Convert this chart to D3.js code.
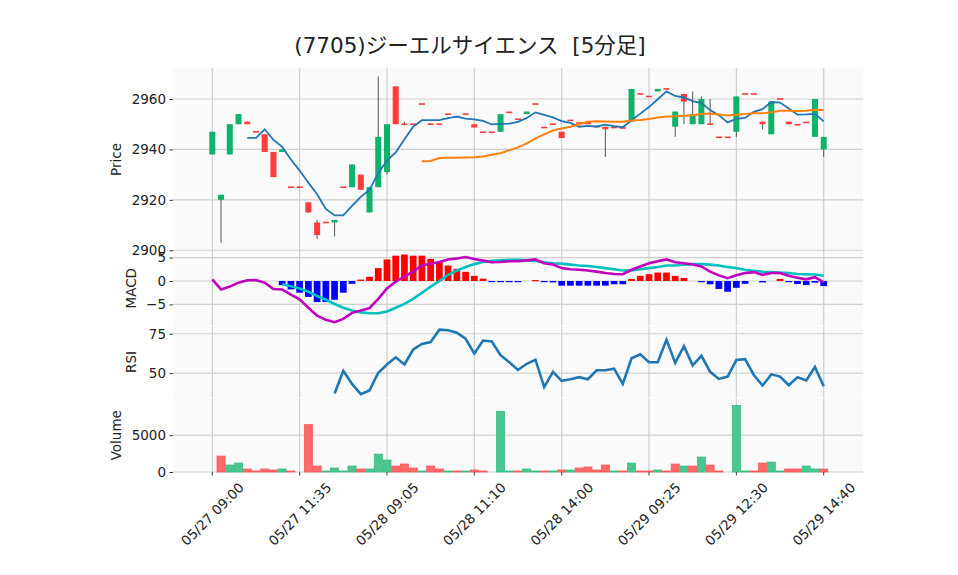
<!DOCTYPE html>
<html>
<head>
<meta charset="utf-8">
<script src="https://cdn.jsdelivr.net/npm/d3@7/dist/d3.min.js"></script>
<style>
  body { margin: 0; background: #fff; }
  text { font-family: "DejaVu Sans", "Noto Sans CJK JP", sans-serif; fill: #222; }
</style>
</head>
<body>
<div id="chart"></div>
<script>
// 5-minute bars (index 0 = 05/27 09:00)
var opens  = [2938,2920,2938,2950,2951,2947,2946,2939,2939,2925, 2925,2919,2911,2911,2911,2925,2925,2930,2915,2925,
              2931,2965,2950,2950,2958,2950,2950,2954,2953,2954, 2950,2946.8,2946.8,2947,2954.7,2952,2954,2958,2948.7,2950,
              2947,2951.5,2950.5,2951,2949,2949,2948.7,2948.5,2951,2962, 2961,2963,2964,2949,2962,2950,2950,2950,2944.8,2944.8,
              2947,2962,2962,2951,2946,2960,2951,2949.8,2950.7,2945, 2940];
var highs  = [2947,2922,2950,2954,2951,2947,2946,2939,2940,2925, 2925,2919,2912,2911,2912,2925,2934,2930,2925,2969,
              2950,2965,2951,2950,2958,2950,2950,2954,2953,2954, 2950,2946.8,2946.8,2954,2954.7,2952,2955,2958,2948.7,2950,
              2947,2951.5,2950.5,2951,2949,2949,2948.7,2948.5,2964,2962, 2961,2964,2964,2955,2962,2963,2961,2960,2944.8,2944.8,
              2961,2962,2962,2951,2959,2960,2951,2949.8,2950.7,2960, 2945];
var lows   = [2938,2903,2938,2950,2950,2947,2939,2929,2939,2925, 2925,2915,2904.5,2911,2905.5,2925,2925,2924,2915,2925,
              2930,2950,2949.5,2950,2958,2950,2950,2954,2953,2954, 2948.7,2946.8,2946.8,2947,2954.7,2952,2954,2958,2948.7,2950,
              2944.5,2951.5,2950.5,2950,2949,2937,2948.7,2948.5,2951,2962, 2961,2963,2964,2945,2950,2950,2950,2950,2944.8,2944.8,
              2945,2962,2962,2948,2946,2960,2950,2949.8,2950.7,2945, 2937];
var closes = [2947,2922,2950,2954,2950,2947,2939,2929,2940,2925, 2925,2915,2906,2911,2912,2925,2934,2924,2925,2945,
              2950,2950,2950,2950,2958,2950,2950,2954,2953,2954, 2948.7,2946.8,2946.8,2954,2954.7,2952,2955,2958,2948.7,2950,
              2944.5,2951.5,2950.5,2950,2949,2948,2948.7,2948.5,2964,2962, 2961,2964,2964,2955,2959,2954,2960,2950,2944.8,2944.8,
              2961,2962,2962,2950,2959,2960,2950,2949.8,2950.7,2960, 2945];
var volumes = [0,2160,945,1215,405,135,405,270,405,135, 0,6435,810,135,540,135,810,405,405,2430,
               1620,810,1080,540,135,810,405,135,135,135, 270,135,0,8235,135,135,405,135,135,135,
               270,270,540,675,270,945,135,135,1215,135, 135,270,135,1080,810,810,2025,945,135,0,
               9045,135,135,1215,1350,135,405,405,810,405, 405];

// moving averages (5 and 25 bars)
var ma5 = [null,null,null,null,2944.6,2944.6,2948.0,2943.8,2941.0,2936.0, 2931.6,2926.8,2922.2,2916.4,2913.8,2913.8,2917.6,2921.2,2924.0,2930.6,
           2935.6,2938.8,2944.0,2949.0,2951.6,2951.6,2951.6,2952.4,2953.0,2952.2, 2951.9,2951.3,2949.9,2950.1,2950.2,2950.9,2952.5,2954.7,2953.7,2952.7,
           2951.2,2950.5,2949.0,2949.3,2949.1,2949.8,2949.2,2948.8,2951.6,2954.2, 2956.8,2959.9,2963.0,2961.2,2960.6,2959.2,2958.4,2955.6,2953.6,2950.7,
           2952.1,2952.5,2954.9,2956.0,2958.8,2958.6,2956.2,2953.8,2953.9,2954.1, 2951.1];
var ma25 = [null,null,null,null,null,null,null,null,null,null, null,null,null,null,null,null,null,null,null,null,
            null,null,null,null,2935.3,2935.4,2936.6,2936.7,2936.7,2936.8, 2936.9,2937.2,2937.9,2938.5,2939.7,2940.8,2942.4,2944.4,2946.0,2947.5,
            2948.3,2949.0,2950.0,2951.0,2951.2,2951.1,2951.0,2951.0,2951.5,2951.7, 2952.1,2952.7,2953.1,2953.2,2953.4,2953.6,2954.1,2954.2,2953.9,2953.5,
            2953.8,2954.1,2954.3,2954.3,2954.7,2955.3,2955.3,2955.2,2955.3,2955.7, 2955.6];

// MACD panel
var macd = [0.36,-1.8,-1.2,-0.36,0.14,0.2,-0.36,-1.7,-1.8,-2.9, -3.9,-5.7,-7.4,-8.3,-8.8,-8.1,-6.8,-6.3,-5.8,-3.8,
            -1.6,-0.15,0.94,2.0,3.3,3.7,4.06,4.6,4.8,5.1, 4.7,4.35,4.0,4.06,4.2,4.2,4.4,4.6,3.8,3.5,
            2.75,2.5,2.4,2.25,2.0,1.7,1.5,1.45,2.4,3.1, 3.8,4.2,4.6,4.0,3.8,3.5,3.1,2.0,1.2,0.6,
            1.2,1.7,1.9,1.3,1.7,1.7,1.1,0.7,0.36,0.8, -0.3];
var signal = [null,null,null,null,null,null,null,null,-0.7,-1.1, -1.6,-2.3,-3.2,-4.0,-4.9,-5.7,-6.3,-6.7,-6.9,-6.9,
              -6.5,-5.7,-4.9,-3.8,-2.5,-1.2,0,1.3,2.25,3.0, 3.6,4.06,4.3,4.4,4.5,4.5,4.4,4.3,4.0,3.8,
              3.7,3.5,3.3,3.2,3.0,2.75,2.5,2.25,2.25,2.5, 2.75,3.0,3.3,3.3,3.5,3.6,3.6,3.5,3.3,3.0,
              2.75,2.4,2.2,2.0,1.9,1.8,1.7,1.5,1.45,1.4, 1.1];
var hist = [null,null,null,null,null,null,null,null,-0.9,-1.8, -2.5,-3.4,-4.5,-4.5,-4.0,-2.5,-0.6,0.3,0.9,2.75,
            4.6,5.4,5.65,5.4,5.4,4.7,4.0,3.3,2.6,1.95, 1.1,0.5,-0.15,-0.05,-0.1,-0.15,0,0.2,-0.1,-0.3,
            -1.0,-1.0,-1.0,-1.0,-1.0,-1.0,-0.7,-0.7,0.45,1.1, 1.45,1.8,1.8,1.1,0.65,0,-0.1,-0.7,-1.7,-2.3,
            -1.45,-0.6,0,-0.3,0,0.45,-0.1,-0.65,-0.87,-0.36, -1.09];

// RSI panel
var rsi = [null,null,null,null,null,null,null,null,null,null, null,null,null,null,37.0,51.4,43.1,36.6,39.0,50.2,
           55.5,60.0,55.5,65.0,68.5,69.7,77.6,77.2,75.6,71.8, 62.4,70.7,70.1,61.4,56.9,52.0,55.9,58.5,41.1,50.8,
           45.1,46.1,47.4,46.1,51.8,51.8,52.8,43.1,59.4,62.0, 56.9,56.9,71.1,56.5,67.1,54.9,61.0,50.8,46.3,47.8,
           58.3,58.9,48.8,42.1,49.2,47.8,42.3,47.4,45.3,53.9, 41.7];

// x tick labels
var tickIdx = [0,10,20,30,40,50,60,70];
var tickLabels = ["05/27 09:00","05/27 11:35","05/28 09:05","05/28 11:10","05/28 14:00","05/29 09:25","05/29 12:30","05/29 14:40"];

var width = 958, height = 575;
var up = "#0db36b", down = "#fe3b3b";

var svg = d3.select("#chart").append("svg")
    .attr("width", width)
    .attr("height", height);

var x = d3.scaleLinear().domain([-4.5, 74.5]).range([173, 863]);
var step = x(1) - x(0);

var panels = [
  {label: "Price",  top: 68,    bottom: 251,   domain: [2899.7, 2972.3], ticks: [2900, 2920, 2940, 2960], labelX: 116},
  {label: "MACD",   top: 251,   bottom: 325.5, domain: [-9.5, 6.4],      ticks: [-5, 0, 5],                labelX: 131},
  {label: "RSI",    top: 326.5, bottom: 397.5, domain: [34.5, 79.6],     ticks: [50, 75],                  labelX: 131},
  {label: "Volume", top: 398.5, bottom: 472,   domain: [0, 9990],        ticks: [0, 5000],                 labelX: 116}
];

panels.forEach(function(p) {
  p.y = d3.scaleLinear().domain(p.domain).range([p.bottom, p.top]);
  var g = svg.append("g");
  g.append("rect")
      .attr("x", 173).attr("y", p.top)
      .attr("width", 690).attr("height", p.bottom - p.top)
      .attr("fill", "#fafafa");
  // grid
  g.selectAll(".vg").data(tickIdx).enter().append("line")
      .attr("x1", function(d) { return x(d); }).attr("x2", function(d) { return x(d); })
      .attr("y1", p.top).attr("y2", p.bottom)
      .attr("stroke", "#d0d0d0").attr("stroke-width", 1.2);
  g.selectAll(".hg").data(p.ticks).enter().append("line")
      .attr("x1", 173).attr("x2", 863)
      .attr("y1", function(d) { return p.y(d); }).attr("y2", function(d) { return p.y(d); })
      .attr("stroke", "#d0d0d0").attr("stroke-width", 1.2);
  // y axis
  var axis = d3.axisLeft(p.y).tickValues(p.ticks).tickSize(3.5).tickPadding(3.5)
      .tickFormat(function(d) { return d < 0 ? "\u2212" + Math.abs(d) : d; });
  var ag = svg.append("g").attr("transform", "translate(173,0)").call(axis);
  ag.select(".domain").remove();
  ag.selectAll("line").attr("stroke", "#222").attr("stroke-width", 0.9);
  ag.selectAll("text").attr("font-size", "13.5px").attr("font-family", "DejaVu Sans").attr("fill", "#222");
  svg.append("text")
      .attr("transform", "translate(" + p.labelX + "," + ((p.top + p.bottom) / 2) + ") rotate(-90)")
      .attr("text-anchor", "middle")
      .attr("dominant-baseline", "central")
      .attr("font-size", "13.5px")
      .text(p.label);
});

var yP = panels[0].y, yM = panels[1].y, yR = panels[2].y, yV = panels[3].y;

var bars = closes.map(function(c, i) {
  return {i: i, o: opens[i], h: highs[i], l: lows[i], c: c, v: volumes[i]};
});

// candles
var bw = step * 0.69;
svg.append("g").selectAll("line").data(bars).enter().append("line")
    .attr("x1", function(d) { return x(d.i); }).attr("x2", function(d) { return x(d.i); })
    .attr("y1", function(d) { return yP(d.h); }).attr("y2", function(d) { return yP(d.l); })
    .attr("stroke", "#555").attr("stroke-width", 1);
svg.append("g").selectAll("rect").data(bars).enter().append("rect")
    .attr("x", function(d) { return x(d.i) - bw / 2; })
    .attr("width", bw)
    .attr("y", function(d) {
      var hgt = Math.abs(yP(d.o) - yP(d.c));
      return hgt < 1.6 ? yP((d.o + d.c) / 2) - 0.8 : yP(Math.max(d.o, d.c));
    })
    .attr("height", function(d) { return Math.max(1.6, Math.abs(yP(d.o) - yP(d.c))); })
    .attr("fill", function(d) { return d.c > d.o ? up : down; });

// moving averages
function lineFor(ys) {
  return d3.line()
      .defined(function(d) { return d != null; })
      .x(function(d, i) { return x(i); })
      .y(function(d) { return ys(d); });
}
svg.append("path").datum(ma5)
    .attr("fill", "none").attr("stroke", "#1f77b4").attr("stroke-width", 1.8)
    .attr("d", lineFor(yP));
svg.append("path").datum(ma25)
    .attr("fill", "none").attr("stroke", "#ff7f0e").attr("stroke-width", 2)
    .attr("d", lineFor(yP));

// MACD histogram + lines
var hw = step * 0.77;
svg.append("g").selectAll("rect").data(hist.map(function(h, i) { return {i: i, h: h}; }).filter(function(d) { return d.h != null && d.h != 0; }))
    .enter().append("rect")
    .attr("x", function(d) { return x(d.i) - hw / 2; })
    .attr("width", hw)
    .attr("y", function(d) { return yM(Math.max(0, d.h)); })
    .attr("height", function(d) { return Math.max(1.2, Math.abs(yM(d.h) - yM(0))); })
    .attr("fill", function(d) { return d.h > 0 ? "#ff0000" : "#0000ff"; });
svg.append("path").datum(signal)
    .attr("fill", "none").attr("stroke", "#00c0c0").attr("stroke-width", 2.6)
    .attr("d", lineFor(yM));
svg.append("path").datum(macd)
    .attr("fill", "none").attr("stroke", "#bf00bf").attr("stroke-width", 2.6)
    .attr("d", lineFor(yM));

// RSI
svg.append("path").datum(rsi)
    .attr("fill", "none").attr("stroke", "#1f77b4").attr("stroke-width", 2.6)
    .attr("d", lineFor(yR));

// volume, coloured against previous close
var vw = step * 0.92;
svg.append("g").selectAll("rect").data(bars.filter(function(d) { return d.v > 0; }))
    .enter().append("rect")
    .attr("x", function(d) { return x(d.i) - vw / 2; })
    .attr("width", vw)
    .attr("y", function(d) { return yV(d.v); })
    .attr("height", function(d) { return yV(0) - yV(d.v); })
    .attr("fill", function(d) { return d.i > 0 && d.c > closes[d.i - 1] ? "#4bc690" : "#ff6b6b"; })
    .attr("stroke", function(d) { return d.i > 0 && d.c > closes[d.i - 1] ? "#35bd80" : "#ff5454"; })
    .attr("stroke-width", 0.8);

// x axis ticks and rotated labels
var xg = svg.append("g");
xg.selectAll("line").data(tickIdx).enter().append("line")
    .attr("x1", function(d) { return x(d); }).attr("x2", function(d) { return x(d); })
    .attr("y1", 472).attr("y2", 475.5)
    .attr("stroke", "#222").attr("stroke-width", 0.9);
tickIdx.forEach(function(t, k) {
  var txt = xg.append("text")
      .attr("font-size", "13.5px")
      .attr("text-anchor", "middle")
      .attr("dominant-baseline", "central")
      .text(tickLabels[k]);
  var w = txt.node().getComputedTextLength();
  var boxH = (w + 15.5) * Math.SQRT1_2;
  txt.attr("transform", "translate(" + x(t) + "," + (479.5 + boxH / 2) + ") rotate(-45)");
});

// title (two spaces kept)
svg.append("text")
    .attr("x", 470).attr("y", 53)
    .attr("text-anchor", "middle")
    .attr("font-size", "21.5px")
    .style("white-space", "pre")
    .attr("xml:space", "preserve")
    .text("(7705)ジーエルサイエンス  [5分足]");
</script>
</body>
</html>
